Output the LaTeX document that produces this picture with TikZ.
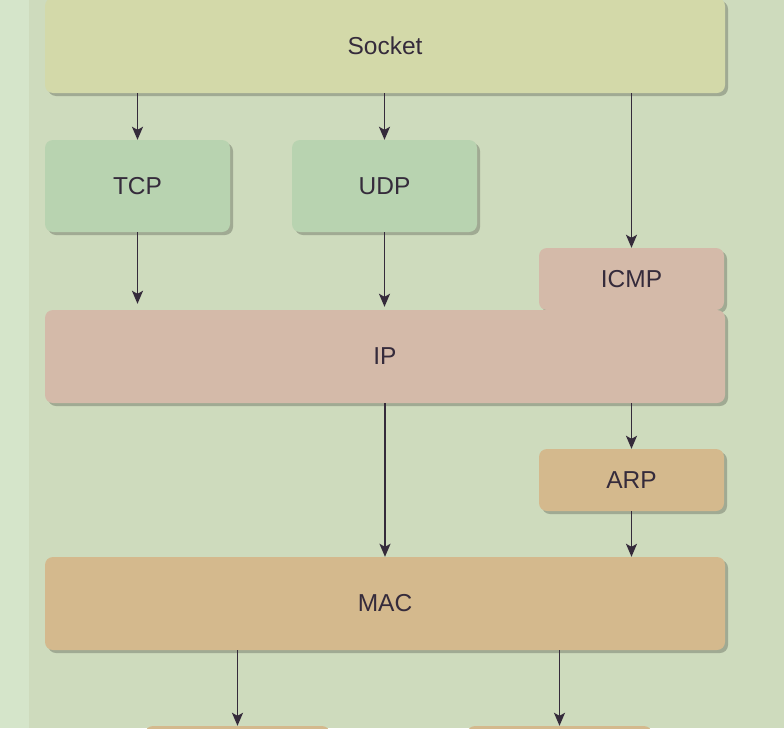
\documentclass[tikz,border=0pt]{standalone}
\usepackage{fontspec}
\setmainfont{Liberation Sans}
\usetikzlibrary{arrows.meta,shadows}
\definecolor{bgmain}{HTML}{CEDBBD}
\definecolor{bgside}{HTML}{D5E5CA}
\definecolor{socketfill}{HTML}{D3D9A9}
\definecolor{transfill}{HTML}{B8D3B0}
\definecolor{netfill}{HTML}{D4BAA9}
\definecolor{linkfill}{HTML}{D4B98D}
\definecolor{inkdark}{HTML}{352B3B}
\begin{document}
\begin{tikzpicture}[x=1pt,y=-1pt,
        layer/.style={draw=none,rounded corners=8pt,inner sep=0pt,
            font=\fontsize{24.5}{28}\selectfont,text=inkdark,
            drop shadow={shadow xshift=3pt,shadow yshift=-3pt,fill=black,opacity=0.22}},
        wide/.style={layer,minimum width=680pt,minimum height=93pt},
        block/.style={layer,minimum width=185pt,minimum height=92pt},
        slim/.style={layer,minimum width=185pt,minimum height=62pt},
        flow/.style={-{Stealth[length=13pt,width=11pt,inset=3pt]},line width=1.8pt,draw=inkdark}]
            \def\W{784}
            \def\H{728}

            \useasboundingbox (0,0) rectangle (\W,\H);
            \clip (0,0) rectangle (\W,\H);
            \fill[bgmain] (0,0) rectangle (\W,\H);
            \fill[bgside] (0,0) rectangle (29,\H);

            \node[wide,fill=socketfill,minimum height=95pt] (socket) at (385,45.5) {Socket};
            \node[block,fill=transfill] (tcp) at (137.5,186) {TCP};
            \node[block,fill=transfill] (udp) at (384.5,186) {UDP};
            \node[slim,fill=netfill] (icmp) at (631.5,279) {ICMP};
            \node[wide,fill=netfill] (ip) at (385,356.5) {IP};
            \node[slim,fill=linkfill] (arp) at (631.5,480) {ARP};
            \node[wide,fill=linkfill] (mac) at (385,603.5) {MAC};
            \node[block,fill=linkfill] (below1) at (237.5,772) {};
            \node[block,fill=linkfill] (below2) at (559.5,772) {};

            \foreach \from/\to in {socket/tcp,socket/udp,socket/icmp,ip/arp,mac/below1,mac/below2}{
                    \draw[flow] (\from.south -| \to) -- (\to.north);
                }
            \foreach \from/\to/\gap in {tcp/ip/6pt,udp/ip/3pt,ip/mac/0pt,arp/mac/0pt}{
                    \draw[flow,shorten >=\gap] (\from.south) -- (\from.south |- \to.north);
                }
        \end{tikzpicture}
\end{document}
